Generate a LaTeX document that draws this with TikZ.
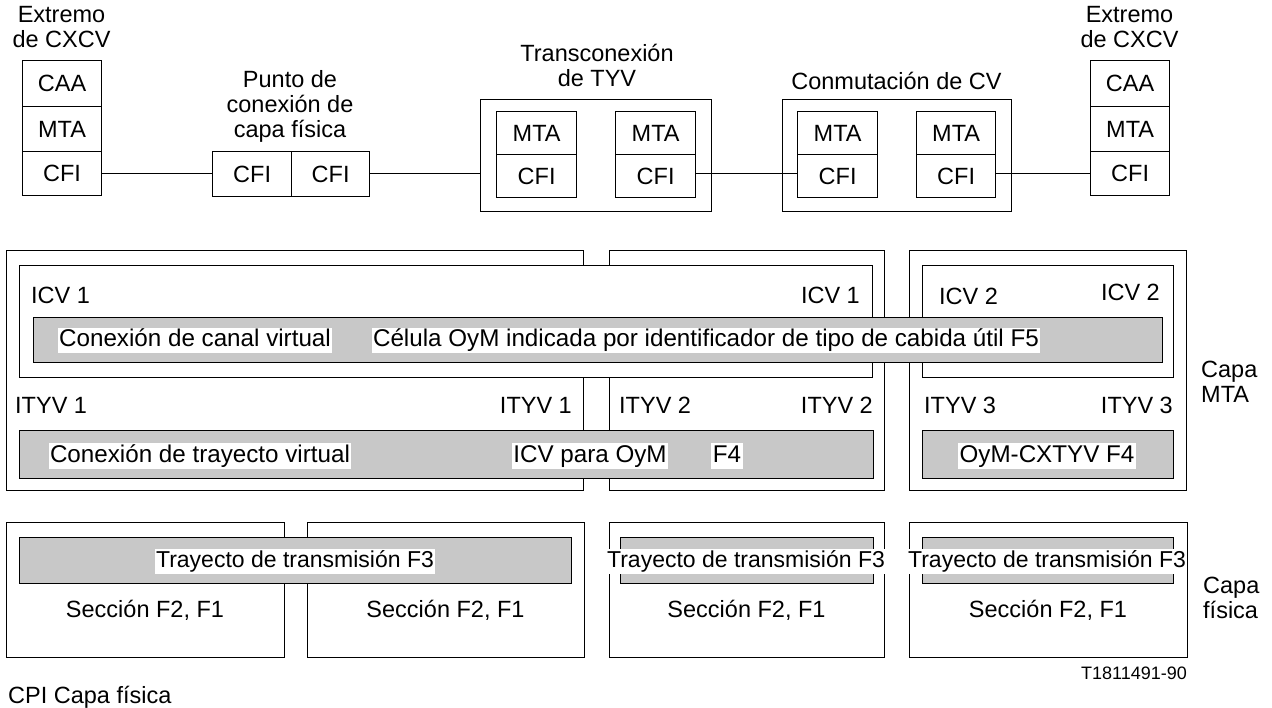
\documentclass[tikz,border=0pt]{standalone}
\usepackage{fontspec}
\setmainfont{Liberation Sans}
\newcommand{\dfont}{\fontsize{23.5}{25}\selectfont}
\newcommand{\bfontx}{\fontsize{24.2}{25}\selectfont}
\newcommand{\tfont}{\fontsize{23}{25}\selectfont}
\newcommand{\smfont}{\fontsize{18}{20}\selectfont}
\definecolor{barfill}{RGB}{200,200,200}
\begin{document}
\begin{tikzpicture}[x=1pt,y=-1pt,
  every node/.style={font=\dfont, inner sep=0pt},
  box/.style={draw, line width=1.2pt, anchor=north west, inner sep=0pt},
  wbox/.style={box, fill=white},
  bar/.style={draw, line width=1.2pt, fill=barfill, anchor=north west},
  lab/.style={fill=white, inner sep=1.5pt, text height=17pt, text depth=5pt},
  conn/.style={line width=1.2pt}]
\useasboundingbox (0,0) rectangle (1272,708);

% ---------- top row ----------
\node[box, minimum width=79pt, minimum height=46pt] (lcaa) at (22,60) {CAA};
\node[box, minimum width=79pt, minimum height=45pt] (lmta) at (22,106) {MTA};
\node[box, minimum width=79pt, minimum height=44pt] (lcfi) at (22,151) {CFI};
\node[align=center] (lend) at (61.5,27.5) {Extremo\\de CXCV};

\node[box, minimum width=79pt, minimum height=45pt] (pcfa) at (212,151) {CFI};
\node[box, minimum width=78pt, minimum height=45pt] (pcfb) at (291,151) {CFI};
\node[align=center] (plab) at (290,106) {Punto de\\conexión de\\capa física};

\node[box, minimum width=231pt, minimum height=112pt] (tyv) at (480,99) {};
\node[box, minimum width=80pt, minimum height=43pt] (tmta1) at (496,111) {MTA};
\node[box, minimum width=80pt, minimum height=43pt] (tcfi1) at (496,154) {CFI};
\node[box, minimum width=80pt, minimum height=43pt] (tmta2) at (615,111) {MTA};
\node[box, minimum width=80pt, minimum height=43pt] (tcfi2) at (615,154) {CFI};
\node[align=center] (tlab) at (597,65) {Transconexión\\de TYV};

\node[box, minimum width=229pt, minimum height=112pt] (cv) at (782,99) {};
\node[box, minimum width=80pt, minimum height=43pt] (cmta1) at (797,111) {MTA};
\node[box, minimum width=80pt, minimum height=43pt] (ccfi1) at (797,154) {CFI};
\node[box, minimum width=79pt, minimum height=43pt] (cmta2) at (916,111) {MTA};
\node[box, minimum width=79pt, minimum height=43pt] (ccfi2) at (916,154) {CFI};
\node[anchor=base] (clab) at (896.5,90) {Conmutación de CV};

\node[box, minimum width=79pt, minimum height=46pt] (rcaa) at (1090,60) {CAA};
\node[box, minimum width=79pt, minimum height=45pt] (rmta) at (1090,106) {MTA};
\node[box, minimum width=79pt, minimum height=44pt] (rcfi) at (1090,151) {CFI};
\node[align=center] (rend) at (1129.5,27.5) {Extremo\\de CXCV};

\draw[conn] (lcfi.east) -- (pcfa.west |- lcfi.east);
\draw[conn] (pcfb.east |- lcfi.east) -- (tyv.west |- lcfi.east);
\draw[conn] (tcfi2.east |- lcfi.east) -- (ccfi1.west |- lcfi.east);
\draw[conn] (ccfi2.east |- lcfi.east) -- (rcfi.west |- lcfi.east);

% ---------- MTA layer ----------
\node[box, minimum width=577pt, minimum height=240pt] (ol) at (6,250) {};
\node[box, minimum width=275pt, minimum height=240pt] (om) at (609,250) {};
\node[box, minimum width=277pt, minimum height=240pt] (or) at (909,250) {};
\node[wbox, minimum width=853pt, minimum height=112pt] (icv1) at (19,265) {};
\node[wbox, minimum width=251pt, minimum height=112pt] (icv2) at (922,265) {};
\node[bar, minimum width=1129pt, minimum height=45pt] (vcc) at (33,317) {};
\node[bar, minimum width=854pt, minimum height=48pt] (vpc) at (19,430) {};
\node[bar, minimum width=251pt, minimum height=48pt] (vpr) at (922,430) {};

\node[anchor=base west] (icv1a) at (31,304) {ICV 1};
\node[anchor=base east] (icv1b) at (860,304) {ICV 1};
\node[anchor=base west] (icv2a) at (939,305) {ICV 2};
\node[anchor=base east] (icv2b) at (1160,301) {ICV 2};
\node[lab, font=\bfontx] (vcl) at (195,341) {Conexión de canal virtual};
\node[lab, font=\bfontx] (oam5) at (706,341) {Célula OyM indicada por identificador de tipo de cabida útil F5};

\node[anchor=base west] (ityv1a) at (15,414) {ITYV 1};
\node[anchor=base east] (ityv1b) at (572,414) {ITYV 1};
\node[anchor=base west] (ityv2a) at (619,414) {ITYV 2};
\node[anchor=base east] (ityv2b) at (873,414) {ITYV 2};
\node[anchor=base west] (ityv3a) at (924,414) {ITYV 3};
\node[anchor=base east] (ityv3b) at (1173,414) {ITYV 3};

\node[lab, font=\bfontx] (vpl) at (200,456) {Conexión de trayecto virtual};
\node[lab, font=\bfontx] (icvoam) at (590,456) {ICV para OyM};
\node[lab, font=\bfontx] (f4a) at (727,456) {F4};
\node[lab, font=\bfontx] (f4b) at (1047,456) {OyM-CXTYV F4};
\node[anchor=west, align=left] (capamta) at (1201,382) {Capa\\MTA};

% ---------- physical layer ----------
\node[box, minimum width=278pt, minimum height=135pt] (b1) at (6,522) {};
\node[box, minimum width=277pt, minimum height=135pt] (b2) at (307,522) {};
\node[box, minimum width=275pt, minimum height=135pt] (b3) at (609,522) {};
\node[box, minimum width=278pt, minimum height=135pt] (b4) at (909,522) {};
\node[bar, minimum width=552pt, minimum height=46pt] (tp1) at (19,537) {};
\node[bar, minimum width=253pt, minimum height=46pt] (tp2) at (620,537) {};
\node[bar, minimum width=251pt, minimum height=46pt] (tp3) at (922,537) {};

\node[lab, font=\tfont] (tpl1) at (295,561) {Trayecto de transmisión F3};
\node[lab, font=\tfont] (tpl2) at (746,561) {Trayecto de transmisión F3};
\node[lab, font=\tfont] (tpl3) at (1047,561) {Trayecto de transmisión F3};

\node (s1) at (145,610) {Sección F2, F1};
\node (s2) at (445.5,610) {Sección F2, F1};
\node (s3) at (746.5,610) {Sección F2, F1};
\node (s4) at (1048,610) {Sección F2, F1};

\node[anchor=west, align=left] (capafis) at (1203,598) {Capa\\física};
\node[anchor=east, font=\smfont] (ref) at (1187,673) {T1811491-90};
\node[anchor=west] (cpi) at (8,697) {CPI Capa física};
\end{tikzpicture}
\end{document}
